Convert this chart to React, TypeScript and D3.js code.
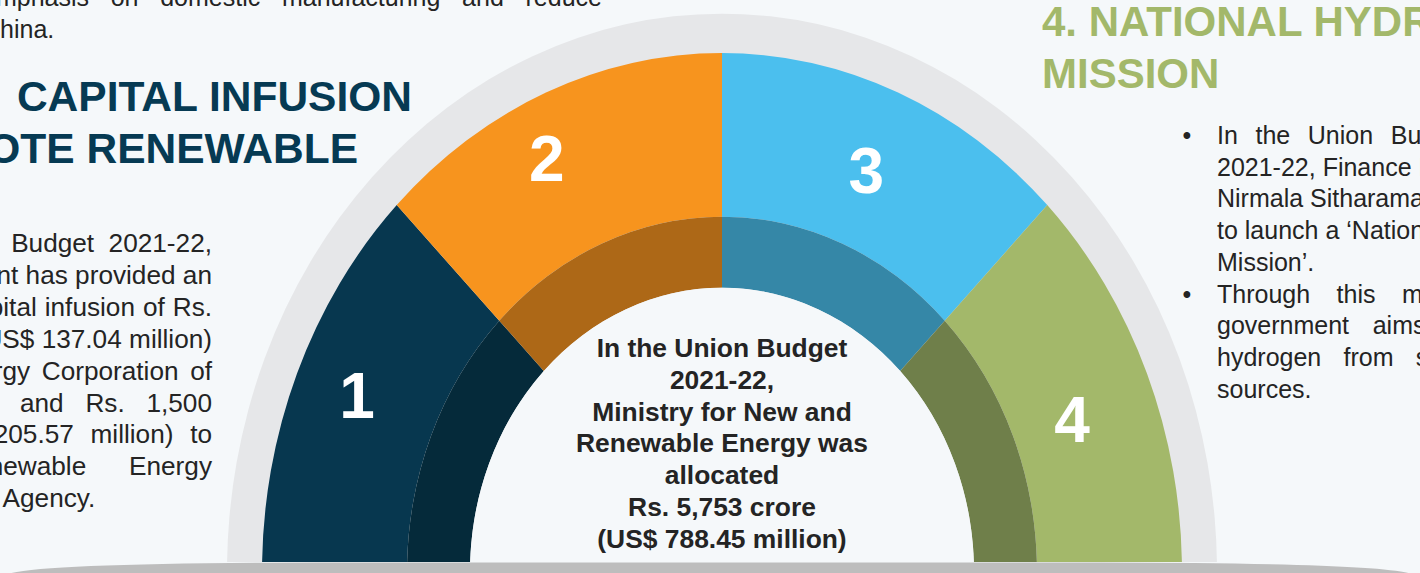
import { useEffect, useRef } from "react";
import * as d3 from "d3";

// Renewable energy budget infographic — half gauge with four numbered segments,
// flanked by justified text columns that run off the edges of the slide.

const W = 1420;
const H = 573;

const SEGMENTS = ["1", "2", "3", "4"];
const SEG_COLORS = ["#07374f", "#f7941e", "#4bbfee", "#a3b86a"];
const SEG_SHADES = ["#052a3a", "#ad6817", "#3587a7", "#6f7f4a"];
const LABEL_NUDGE = [[-7, -10], [-27, -10], [-4, 2], [-8, 14]];

const CENTER_LINES = [
  "In the Union Budget",
  "2021-22,",
  "Ministry for New and",
  "Renewable Energy was",
  "allocated",
  "Rs. 5,753 crore",
  "(US$ 788.45 million)",
];

const TOP_PARA = [["emphasis on domestic manufacturing and reduce", "China."]];

const LEFT_HEAD = ["1.\u00a0\u00a0\u00a0CAPITAL INFUSION", "TO PROMOTE RENEWABLE"];
const LEFT_PARA = [[
  "In the Union Budget 2021-22,",
  "the government has provided an",
  "additional capital infusion of Rs.",
  "1,000 crore (US$ 137.04 million)",
  "to Solar Energy Corporation of",
  "India (SECI) and Rs. 1,500",
  "crore (US$ 205.57 million) to",
  "Indian Renewable Energy",
  "Development Agency.",
]];

const RIGHT_HEAD = ["4. NATIONAL HYDROGEN", "MISSION"];
const RIGHT_PARA = [
  [
    "In the Union Budget",
    "2021-22, Finance Minister",
    "Nirmala Sitharaman announced",
    "to launch a \u2018National Hydrogen",
    "Mission\u2019.",
  ],
  [
    "Through this move,",
    "government aims to",
    "hydrogen from solar",
    "sources.",
  ],
];

const FONT = "Liberation Sans, Arial, Helvetica, sans-serif";
const BG = "#f5f8fa";
const INK = "#242424";

// gauge geometry (the slide's half circle is stretched vertically)
const CX = 722;
const CY = 572;
const SY = 1.128;
const R_TRACK = 495;
const R_OUTER = 460;
const R_BAND = 315;
const R_INNER = 252;

// lays out word-justified lines; over-long lines either run on past x1
// or, with keepRight, stay flush with the right edge
function justify(g, paras, x0, x1, y0, lh, size, bullet, keepRight) {
  let row = 0;
  paras.forEach((lines) => {
    lines.forEach((line, i) => {
      const y = y0 + row * lh;
      if (bullet && i === 0) {
        g.append("text")
          .attr("x", x0 - 30)
          .attr("y", y)
          .attr("text-anchor", "middle")
          .attr("font-size", size)
          .attr("fill", INK)
          .text("\u2022");
      }
      const words = line.split(" ");
      const nodes = words.map((w) =>
        g.append("text")
          .attr("y", y)
          .attr("font-size", size)
          .attr("fill", INK)
          .text(w)
      );
      const widths = nodes.map((n) => n.node().getComputedTextLength());
      const space = size * 0.278;
      const total = d3.sum(widths);
      const last = i === lines.length - 1;
      let gap = space;
      let x = x0;
      if (!last && words.length > 1) {
        gap = Math.max(space, (x1 - x0 - total) / (words.length - 1));
        const full = total + gap * (words.length - 1);
        if (keepRight && full > x1 - x0) x = x1 - full;
      }
      nodes.forEach((n, j) => {
        n.attr("x", x);
        x += widths[j] + gap;
      });
      row += 1;
    });
  });
}

export default function App() {
  const svgRef = useRef(null);

  useEffect(() => {
    const svg = d3.select(svgRef.current);
    svg.selectAll("*").remove();
    svg.attr("viewBox", `0 0 ${W} ${H}`).attr("font-family", FONT);

    svg.append("rect").attr("width", W).attr("height", H).attr("fill", BG);

    svg.append("defs")
      .append("clipPath")
      .attr("id", "gauge-clip")
      .append("rect")
      .attr("width", W)
      .attr("height", 562);

    const angle = d3.scaleBand().domain(SEGMENTS).range([-Math.PI / 2, Math.PI / 2]);
    const bw = angle.bandwidth();

    const gauge = svg.append("g").attr("clip-path", "url(#gauge-clip)")
      .append("g")
      .attr("transform", `translate(${CX},${CY}) scale(1,${SY})`);

    gauge.append("path")
      .attr("fill", "#e6e7e9")
      .attr("d", d3.arc()({ innerRadius: 0, outerRadius: R_TRACK, startAngle: -Math.PI / 2, endAngle: Math.PI / 2 }));

    const outerArc = d3.arc().innerRadius(R_BAND).outerRadius(R_OUTER);
    const bandArc = d3.arc().innerRadius(R_INNER).outerRadius(R_BAND);

    gauge.selectAll("path.seg")
      .data(SEGMENTS)
      .join("path")
      .attr("class", "seg")
      .attr("fill", (d, i) => SEG_COLORS[i])
      .attr("d", (d) => outerArc({ startAngle: angle(d), endAngle: angle(d) + bw }));

    gauge.selectAll("path.band")
      .data(SEGMENTS)
      .join("path")
      .attr("class", "band")
      .attr("fill", (d, i) => SEG_SHADES[i])
      .attr("d", (d) => bandArc({ startAngle: angle(d), endAngle: angle(d) + bw }));

    gauge.append("path")
      .attr("fill", BG)
      .attr("d", d3.arc()({ innerRadius: 0, outerRadius: R_INNER, startAngle: -Math.PI / 2, endAngle: Math.PI / 2 }));

    // numbers on the segments
    svg.selectAll("text.num")
      .data(SEGMENTS)
      .join("text")
      .attr("class", "num")
      .attr("transform", (d, i) => {
        const [x, y] = outerArc.centroid({ startAngle: angle(d), endAngle: angle(d) + bw });
        return `translate(${CX + x + LABEL_NUDGE[i][0]},${CY + y * SY + LABEL_NUDGE[i][1]})`;
      })
      .attr("text-anchor", "middle")
      .attr("dy", "0.36em")
      .attr("font-size", 64)
      .attr("font-weight", "bold")
      .attr("fill", "#ffffff")
      .text((d) => d);

    // centre text
    svg.append("g")
      .selectAll("text")
      .data(CENTER_LINES)
      .join("text")
      .attr("x", CX)
      .attr("y", (d, i) => 357 + i * 31.8)
      .attr("text-anchor", "middle")
      .attr("font-size", 26.4)
      .attr("font-weight", "bold")
      .attr("fill", INK)
      .text((d) => d);

    // ground bar
    svg.append("path")
      .attr("fill", "#bdbdbd")
      .attr("d", "M8,574 Q40,563 320,562.5 L1100,562.5 Q1380,563 1412,574 Z");

    // headings
    svg.append("g")
      .selectAll("text")
      .data(LEFT_HEAD)
      .join("text")
      .attr("x", (d, i) => (i === 0 ? 412 : 358))
      .attr("y", (d, i) => 111 + i * 52)
      .attr("text-anchor", "end")
      .attr("font-size", 42.5)
      .attr("font-weight", "bold")
      .attr("fill", "#063a53")
      .text((d) => d);

    svg.append("g")
      .selectAll("text")
      .data(RIGHT_HEAD)
      .join("text")
      .attr("x", 1042)
      .attr("y", (d, i) => 36 + i * 52)
      .attr("font-size", 42)
      .attr("font-weight", "bold")
      .attr("fill", "#a3b86a")
      .text((d) => d);

    // body paragraphs
    justify(svg.append("g"), TOP_PARA, -18, 602, 6, 31.7, 25, false, false);
    justify(svg.append("g"), LEFT_PARA, -159, 212, 252, 31.9, 26.2, true, true);
    justify(svg.append("g"), RIGHT_PARA, 1217, 1470, 144, 31.7, 25, true, false);
  }, []);

  return (
    <svg
      ref={svgRef}
      width={W}
      height={H}
      style={{ position: "absolute", left: 0, top: 0, display: "block" }}
    />
  );
}
